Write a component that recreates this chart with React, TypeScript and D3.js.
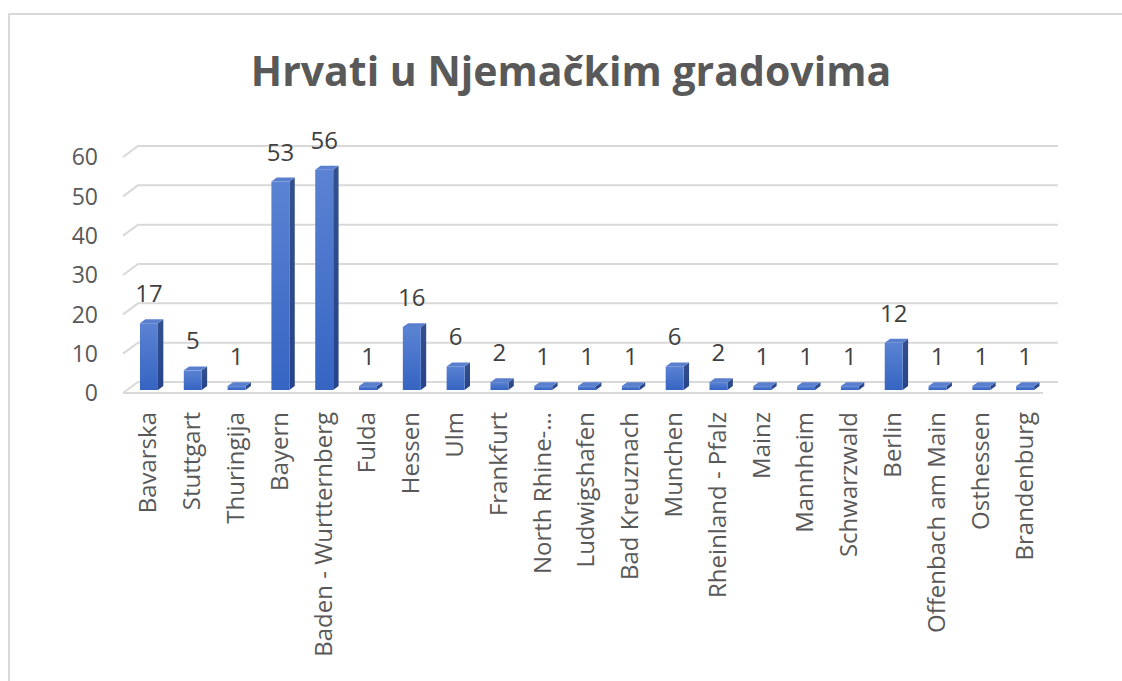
import React from 'react';
import * as d3 from 'd3';

const categories = [
  'Bavarska', 'Stuttgart', 'Thuringija', 'Bayern', 'Baden - Wurtternberg', 'Fulda', 'Hessen', 'Ulm',
  'Frankfurt', 'North Rhine-…', 'Ludwigshafen', 'Bad Kreuznach', 'Munchen', 'Rheinland - Pfalz',
  'Mainz', 'Mannheim', 'Schwarzwald', 'Berlin', 'Offenbach am Main', 'Osthessen', 'Brandenburg',
];
const values = [17, 5, 1, 53, 56, 1, 16, 6, 2, 1, 1, 1, 6, 2, 1, 1, 1, 12, 1, 1, 1];
const yTicks = [0, 10, 20, 30, 40, 50, 60];

const W = 1122;
const H = 681;
// depth of the 3D floor/back wall
const DX = 15;
const DY = 11;
const FONT = '"Open Sans", "Liberation Sans", sans-serif';

export default function App() {
  const x = d3.scaleBand<string>().domain(categories).range([123, 1043]).padding(0);
  const y = d3.scaleLinear().domain([0, 60]).range([393, 157]);

  // projection: front coordinates shifted by depth z (0 = front, 1 = back)
  const px = (xf: number, z: number) => xf + z * DX;
  const py = (v: number, z: number) => y(v) - z * DY;

  const z0 = 0.27;
  const z1 = 0.63;
  const barW = x.bandwidth() * 0.41;

  const pts = (arr: [number, number][]) => arr.map(p => p.join(',')).join(' ');

  return (
    <svg width={W} height={H} style={{ position: 'absolute', left: 0, top: 0, background: '#fff' }} fontFamily={FONT}>
      <defs>
        <linearGradient id="front" x1="0" y1="0" x2="0" y2="1">
          <stop offset="0%" stopColor="#5b83d3" />
          <stop offset="100%" stopColor="#3564c2" />
        </linearGradient>
        <linearGradient id="side" x1="0" y1="0" x2="0" y2="1">
          <stop offset="0%" stopColor="#34508d" />
          <stop offset="100%" stopColor="#26438a" />
        </linearGradient>
      </defs>
      <rect x={9} y={14} width={1300} height={1000} fill="#fff" stroke="#d9d9d9" strokeWidth={2} />

      <text x={571} y={86} textAnchor="middle" fontSize={41} fontWeight="bold" fill="#595959">
        Hrvati u Njemačkim gradovima
      </text>

      {/* gridlines: front-left diagonal + back wall */}
      {yTicks.map(t => (
        <polyline
          key={t}
          points={pts([[px(123, 0), py(t, 0)], [px(123, 1), py(t, 1)], [px(1043, 1), py(t, 1)]])}
          fill="none"
          stroke="#d9d9d9"
          strokeWidth={2}
        />
      ))}
      <line x1={123} x2={1043} y1={y(0)} y2={y(0)} stroke="#d9d9d9" strokeWidth={2} />

      {/* y tick labels */}
      {yTicks.map(t => (
        <text key={t} x={98} y={y(t)} dy="0.36em" textAnchor="end" fontSize={23} fill="#595959">
          {t}
        </text>
      ))}

      {/* bars */}
      {categories.map((c, i) => {
        const v = values[i];
        const xc = (x(c) || 0) + x.bandwidth() / 2;
        const xl = xc - barW / 2;
        const xr = xc + barW / 2;
        const front: [number, number][] = [
          [px(xl, z0), py(0, z0)], [px(xr, z0), py(0, z0)], [px(xr, z0), py(v, z0)], [px(xl, z0), py(v, z0)],
        ];
        const side: [number, number][] = [
          [px(xr, z0), py(0, z0)], [px(xr, z1), py(0, z1)], [px(xr, z1), py(v, z1)], [px(xr, z0), py(v, z0)],
        ];
        const top: [number, number][] = [
          [px(xl, z0), py(v, z0)], [px(xr, z0), py(v, z0)], [px(xr, z1), py(v, z1)], [px(xl, z1), py(v, z1)],
        ];
        return (
          <g key={c}>
            <polygon points={pts(side)} fill="url(#side)" />
            <polygon points={pts(front)} fill="url(#front)" />
            <polygon points={pts(top)} fill="#5a7fce" />
            <text x={px(xc, z0)} y={py(v, z0) - 21} textAnchor="middle" fontSize={24} fill="#404040">
              {v}
            </text>
          </g>
        );
      })}

      {/* category labels */}
      {categories.map(c => {
        const xc = (x(c) || 0) + x.bandwidth() / 2 + 3;
        return (
          <text
            key={c}
            transform={`translate(${xc},412) rotate(-90)`}
            textAnchor="end"
            dy="0.35em"
            fontSize={24}
            fill="#595959"
          >
            {c}
          </text>
        );
      })}
    </svg>
  );
}
